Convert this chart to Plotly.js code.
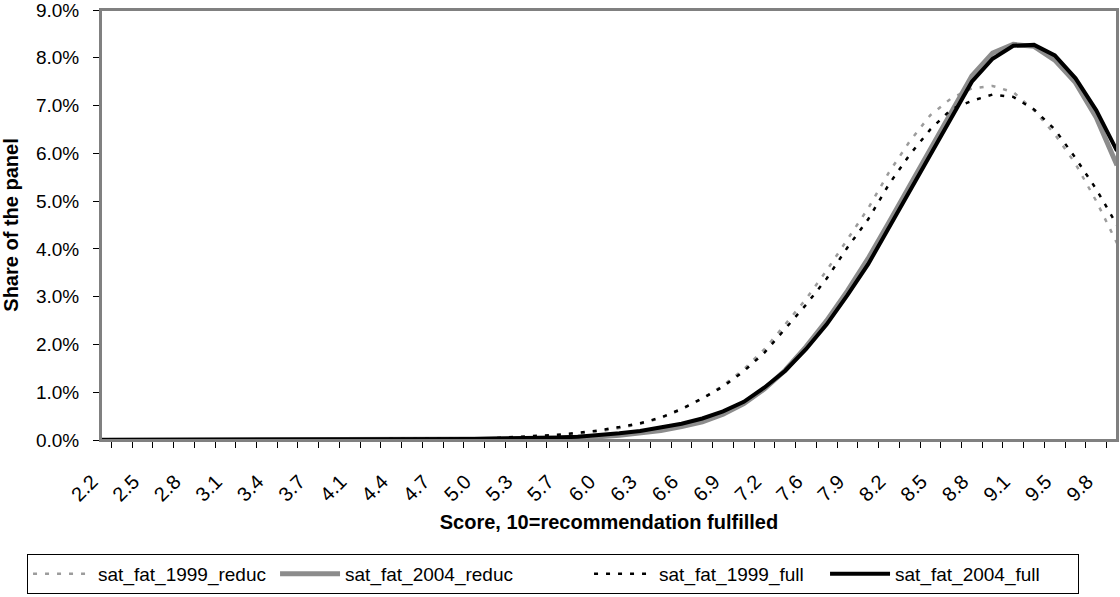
<!DOCTYPE html>
<html>
<head>
<meta charset="utf-8">
<script src="https://cdn.plot.ly/plotly-3.0.1.min.js"></script>
<style>
  html, body { margin: 0; padding: 0; background: #ffffff; }
  #chart { width: 1120px; height: 597px; }
</style>
</head>
<body>
<div id="chart"></div>
<script>
// Score categories (10 = recommendation fulfilled)
const scores = [
  "2.2","2.4","2.5","2.7","2.8","3.0","3.1","3.3","3.4","3.6",
  "3.7","3.9","4.1","4.2","4.4","4.6","4.7","4.9","5.0","5.2",
  "5.3","5.5","5.7","5.8","6.0","6.1","6.3","6.4","6.6","6.8",
  "6.9","7.1","7.2","7.4","7.6","7.7","7.9","8.0","8.2","8.4",
  "8.5","8.7","8.8","9.0","9.1","9.3","9.5","9.6","9.8","10.0"
];
// Tick labels shown (every second category)
const tickLabels = [
  "2.2","","2.5","","2.8","","3.1","","3.4","",
  "3.7","","4.1","","4.4","","4.7","","5.0","",
  "5.3","","5.7","","6.0","","6.3","","6.6","",
  "6.9","","7.2","","7.6","","7.9","","8.2","",
  "8.5","","8.8","","9.1","","9.5","","9.8",""
];
// Share of the panel, in percent
const sat_fat_1999_reduc = [
  0,0,0,0,0,0,0,0,0,0,
  0,0,0,0,0.01,0.01,0.01,0.02,0.02,0.03,
  0.04,0.06,0.09,0.13,0.18,0.25,0.34,0.46,0.64,0.87,
  1.14,1.48,1.90,2.42,2.95,3.55,4.20,4.85,5.60,6.25,
  6.80,7.15,7.36,7.41,7.28,6.90,6.40,5.78,5.00,4.12
];
const sat_fat_2004_reduc = [
  0,0,0,0,0,0,0,0,0,0,
  0,0,0,0,0,0,0.01,0.01,0.01,0.02,
  0.02,0.03,0.04,0.05,0.07,0.10,0.14,0.20,0.28,0.38,
  0.54,0.76,1.07,1.46,1.95,2.50,3.12,3.80,4.55,5.32,
  6.10,6.88,7.62,8.10,8.28,8.24,7.95,7.48,6.75,5.75
];
const sat_fat_1999_full = [
  0,0,0,0,0,0,0,0,0,0,
  0.01,0.01,0.01,0.01,0.02,0.02,0.02,0.03,0.03,0.04,
  0.06,0.08,0.11,0.15,0.20,0.27,0.35,0.47,0.65,0.87,
  1.12,1.44,1.83,2.33,2.83,3.38,4.03,4.62,5.35,5.97,
  6.50,6.92,7.10,7.23,7.18,6.92,6.50,5.90,5.25,4.50
];
const sat_fat_2004_full = [
  0,0,0,0,0,0,0,0,0,0,
  0,0,0,0,0,0.01,0.01,0.02,0.02,0.03,
  0.03,0.04,0.05,0.07,0.10,0.14,0.19,0.26,0.34,0.45,
  0.60,0.80,1.10,1.45,1.90,2.42,3.03,3.68,4.45,5.20,
  5.98,6.75,7.50,7.98,8.25,8.27,8.05,7.57,6.90,6.05
];

const FONT = "Liberation Sans, Arial, Helvetica, sans-serif";

const traces = [
  { name: "sat_fat_1999_reduc", x: scores, y: sat_fat_1999_reduc, type: "scatter", mode: "lines",
    line: { color: "#9c9c9c", width: 2.5, dash: "4px,8px" }, legendwidth: 172 },
  { name: "sat_fat_2004_reduc", x: scores, y: sat_fat_2004_reduc, type: "scatter", mode: "lines",
    line: { color: "#8c8c8c", width: 5 }, legendwidth: 239 },
  { name: "sat_fat_1999_full", x: scores, y: sat_fat_1999_full, type: "scatter", mode: "lines",
    line: { color: "#000000", width: 2.5, dash: "4px,8px" }, legendwidth: 161 },
  { name: "sat_fat_2004_full", x: scores, y: sat_fat_2004_full, type: "scatter", mode: "lines",
    line: { color: "#000000", width: 4 }, legendwidth: 178 }
];

const layout = {
  width: 1120, height: 597,
  margin: { l: 101, r: 3, t: 10, b: 157 },
  paper_bgcolor: "#ffffff", plot_bgcolor: "#ffffff",
  font: { family: FONT, size: 18, color: "#000000" },
  showlegend: true,
  legend: {
    orientation: "h", x: -0.0728, xanchor: "left", y: -0.265, yanchor: "top",
    bordercolor: "#000000", borderwidth: 1, bgcolor: "#ffffff",
    font: { family: FONT, size: 19, color: "#000000" },
    itemwidth: 60, traceorder: "normal"
  },
  shapes: [
    { type: "rect", xref: "paper", yref: "paper", x0: 0, x1: 1, y0: 0, y1: 1,
      line: { color: "#808080", width: 2 }, fillcolor: "rgba(0,0,0,0)", layer: "above" }
  ],
  xaxis: {
    type: "category",
    tickmode: "array", tickvals: scores, ticktext: tickLabels,
    tickson: "boundaries", ticks: "outside", ticklen: 6, tickcolor: "#000000",
    tickangle: -45, ticklabelshift: -9, ticklabelstandoff: 20,
    ticklabeloverflow: "allow",
    showline: true, linecolor: "#808080", linewidth: 2, mirror: true,
    showgrid: false, zeroline: false,
    tickfont: { family: FONT, size: 20, color: "#000000" },
    title: { text: "<b>Score, 10=recommendation fulfilled</b>", font: { family: FONT, size: 20, color: "#000000" }, standoff: 10 },
    automargin: false
  },
  yaxis: {
    range: [0, 9], dtick: 1, tick0: 0, tickformat: ".1f", ticksuffix: "%",
    ticks: "outside", ticklen: 6, tickcolor: "#000000", ticklabelstandoff: 10,
    ticklabeloverflow: "allow",
    showline: true, linecolor: "#808080", linewidth: 2, mirror: true,
    showgrid: false, zeroline: false,
    tickfont: { family: FONT, size: 19, color: "#000000" },
    title: { text: "<b>Share of the panel</b>", font: { family: FONT, size: 20, color: "#000000" }, standoff: 12 },
    automargin: false
  }
};

Plotly.newPlot("chart", traces, layout, { displayModeBar: false, staticPlot: true });
</script>
</body>
</html>
